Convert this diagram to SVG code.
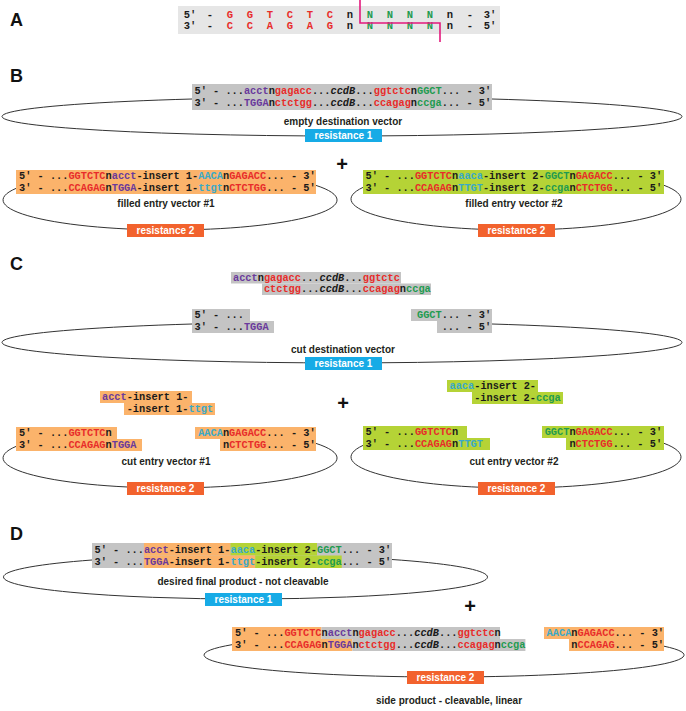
<svg xmlns="http://www.w3.org/2000/svg" width="686" height="711" viewBox="0 0 686 711">
<style>
.seq{font-family:"Liberation Mono","DejaVu Sans Mono",monospace;font-size:10.3px;font-weight:bold;fill:#1a1a1a}
.tok{font-family:"Liberation Mono","DejaVu Sans Mono",monospace;font-size:10.5px;font-weight:bold;fill:#1a1a1a;text-anchor:middle}
.r{fill:#e82c2a}.g{fill:#1f9b50}.p{fill:#6a3a9c}.t{fill:#39a9c9}.i{font-style:italic}
.lbl{font-family:"Liberation Sans",Arial,sans-serif;font-size:10px;font-weight:bold;fill:#231f20;text-anchor:middle}
.res{font-family:"Liberation Sans",Arial,sans-serif;font-size:10px;font-weight:bold;fill:#fff;text-anchor:middle}
.panel{font-family:"Liberation Sans",Arial,sans-serif;font-size:18px;font-weight:bold;fill:#111}
.plus{font-family:"Liberation Sans",Arial,sans-serif;font-size:20px;font-weight:bold;fill:#111;text-anchor:middle}
.gy{fill:#c4c4c4}.ga{fill:#e6e6e6}.or{fill:#fbb36b}.li{fill:#b5d336}
.r1{fill:#17abe6}.r2{fill:#f2622d}
.vec{fill:none;stroke:#333;stroke-width:1}
</style>

<g id="panel-labels">
<text class="panel" x="10" y="26">A</text>
<text class="panel" x="10" y="82">B</text>
<text class="panel" x="10" y="270">C</text>
<text class="panel" x="10" y="540">D</text>
</g>

<g id="plus-signs">
<text class="plus" x="342" y="171">+</text>
<text class="plus" x="343" y="410">+</text>
<text class="plus" x="470" y="613">+</text>
</g>

<g id="A-site">
<rect class="ga" x="178" y="6" width="322" height="28"/>
<text class="tok" y="17.5"><tspan x="190">5′</tspan><tspan x="210">-</tspan><tspan class="r" x="230">G</tspan><tspan class="r" x="250">G</tspan><tspan class="r" x="270">T</tspan><tspan class="r" x="290">C</tspan><tspan class="r" x="310">T</tspan><tspan class="r" x="330">C</tspan><tspan x="350">n</tspan><tspan class="g" x="370">N</tspan><tspan class="g" x="390">N</tspan><tspan class="g" x="410">N</tspan><tspan class="g" x="430">N</tspan><tspan x="450">n</tspan><tspan x="470">-</tspan><tspan x="490">3′</tspan></text>
<text class="tok" y="29"><tspan x="190">3′</tspan><tspan x="210">-</tspan><tspan class="r" x="230">C</tspan><tspan class="r" x="250">C</tspan><tspan class="r" x="270">A</tspan><tspan class="r" x="290">G</tspan><tspan class="r" x="310">A</tspan><tspan class="r" x="330">G</tspan><tspan x="350">n</tspan><tspan class="g" x="370">N</tspan><tspan class="g" x="390">N</tspan><tspan class="g" x="410">N</tspan><tspan class="g" x="430">N</tspan><tspan x="450">n</tspan><tspan x="470">-</tspan><tspan x="490">5′</tspan></text>
</g>
<g id="connectors">
<path d="M360,0 V23 H440 V42" fill="none" stroke="#e3197d" stroke-width="1.6"/>
</g>

<g id="B-destination">
<path class="vec" d="M192,99 A340,19.5 0 1 0 492,99"/>
<rect class="gy" x="192" y="84" width="300" height="26"/>
<text class="seq" x="194.5" y="94">5′ - ...<tspan class="p">acct</tspan>n<tspan class="r">gagacc</tspan>...<tspan class="i">ccdB</tspan>...<tspan class="r">ggtctc</tspan>n<tspan class="g">GGCT</tspan>... - 3′</text>
<text class="seq" x="194.5" y="105.5">3′ - ...<tspan class="p">TGGA</tspan>n<tspan class="r">ctctgg</tspan>...<tspan class="i">ccdB</tspan>...<tspan class="r">ccagag</tspan>n<tspan class="g">ccga</tspan>... - 5′</text>
<text class="lbl" x="343" y="124.5">empty destination vector</text>
<rect class="r1" x="305" y="129" width="77" height="13"/>
<text class="res" x="343.5" y="139">resistance 1</text>
</g>

<g id="B-entry1">
<path class="vec" d="M16,188.4 A167,30 0 1 0 316,185.4"/>
<rect class="or" x="16" y="170" width="300" height="24"/>
<text class="seq" x="19" y="179">5′ - ...<tspan class="r">GGTCTC</tspan>n<tspan class="p">acct</tspan>-insert 1-<tspan class="t">AACA</tspan>n<tspan class="r">GAGACC</tspan>... - 3′</text>
<text class="seq" x="19" y="190.5">3′ - ...<tspan class="r">CCAGAG</tspan>n<tspan class="p">TGGA</tspan>-insert 1-<tspan class="t">ttgt</tspan>n<tspan class="r">CTCTGG</tspan>... - 5′</text>
<text class="lbl" x="166" y="207">filled entry vector #1</text>
<rect class="r2" x="127" y="224" width="77" height="13"/>
<text class="res" x="165.5" y="234">resistance 2</text>
</g>

<g id="B-entry2">
<path class="vec" d="M363,187.4 A165,31 0 1 0 664,185.3"/>
<rect class="li" x="363" y="170" width="301" height="24"/>
<text class="seq" x="365.5" y="179">5′ - ...<tspan class="r">GGTCTC</tspan>n<tspan class="t">aaca</tspan>-insert 2-<tspan class="g">GGCT</tspan>n<tspan class="r">GAGACC</tspan>... - 3′</text>
<text class="seq" x="365.5" y="190.5">3′ - ...<tspan class="r">CCAGAG</tspan>n<tspan class="t">TTGT</tspan>-insert 2-<tspan class="g">ccga</tspan>n<tspan class="r">CTCTGG</tspan>... - 5′</text>
<text class="lbl" x="514" y="207">filled entry vector #2</text>
<rect class="r2" x="478" y="224" width="77" height="13"/>
<text class="res" x="516.5" y="234">resistance 2</text>
</g>

<g id="C-ccdB-fragment">
<rect class="gy" x="231" y="272" width="170" height="11.5"/>
<rect class="gy" x="262" y="283.5" width="169" height="11.5"/>
<text class="seq" x="233" y="280.5"><tspan class="p">acct</tspan>n<tspan class="r">gagacc</tspan>...<tspan class="i">ccdB</tspan>...<tspan class="r">ggtctc</tspan></text>
<text class="seq" x="263.9" y="292"><tspan class="r">ctctgg</tspan>...<tspan class="i">ccdB</tspan>...<tspan class="r">ccagag</tspan>n<tspan class="g">ccga</tspan></text>
</g>

<g id="C-destination">
<path class="vec" d="M192,324 A340,20.5 0 1 0 492,324"/>
<rect class="gy" x="192" y="309" width="58" height="12"/>
<rect class="gy" x="192" y="321" width="82" height="12"/>
<rect class="gy" x="411" y="309" width="81" height="12"/>
<rect class="gy" x="437" y="321" width="55" height="12"/>
<text class="seq" x="194.5" y="318">5′ - ...</text>
<text class="seq" x="194.5" y="329.5">3′ - ...<tspan class="p">TGGA</tspan></text>
<text class="seq" x="417" y="318"><tspan class="g">GGCT</tspan>... - 3′</text>
<text class="seq" x="441.7" y="329.5">... - 5′</text>
<text class="lbl" x="343" y="353">cut destination vector</text>
<rect class="r1" x="305" y="357" width="77" height="13"/>
<text class="res" x="343.5" y="367">resistance 1</text>
</g>

<g id="C-insert1">
<rect class="or" x="100" y="391" width="92" height="12"/>
<rect class="or" x="124" y="403" width="91" height="12"/>
<text class="seq" x="102" y="400"><tspan class="p">acct</tspan>-insert 1-</text>
<text class="seq" x="126.7" y="412">-insert 1-<tspan class="t">ttgt</tspan></text>
</g>

<g id="C-entry1">
<path class="vec" d="M16,446.4 A167,30 0 1 0 316,443.4"/>
<rect class="or" x="16" y="427" width="101" height="12"/>
<rect class="or" x="16" y="439" width="126" height="12"/>
<rect class="or" x="195" y="427" width="121" height="12"/>
<rect class="or" x="220" y="439" width="96" height="12"/>
<text class="seq" x="19" y="436">5′ - ...<tspan class="r">GGTCTC</tspan>n</text>
<text class="seq" x="19" y="447.5">3′ - ...<tspan class="r">CCAGAG</tspan>n<tspan class="p">TGGA</tspan></text>
<text class="seq" x="198.2" y="436"><tspan class="t">AACA</tspan>n<tspan class="r">GAGACC</tspan>... - 3′</text>
<text class="seq" x="223" y="447.5">n<tspan class="r">CTCTGG</tspan>... - 5′</text>
<text class="lbl" x="166" y="465">cut entry vector #1</text>
<rect class="r2" x="127" y="482" width="77" height="13"/>
<text class="res" x="165.5" y="492">resistance 2</text>
</g>

<g id="C-insert2">
<rect class="li" x="447" y="380" width="91" height="12"/>
<rect class="li" x="472" y="392" width="91" height="12"/>
<text class="seq" x="449.5" y="389"><tspan class="t">aaca</tspan>-insert 2-</text>
<text class="seq" x="474.2" y="401">-insert 2-<tspan class="g">ccga</tspan></text>
</g>

<g id="C-entry2">
<path class="vec" d="M363,445.4 A165,31 0 1 0 664,443.3"/>
<rect class="li" x="363" y="426" width="104" height="12"/>
<rect class="li" x="363" y="438" width="127" height="12"/>
<rect class="li" x="542" y="426" width="122" height="12"/>
<rect class="li" x="566" y="438" width="98" height="12"/>
<text class="seq" x="365.5" y="435">5′ - ...<tspan class="r">GGTCTC</tspan>n</text>
<text class="seq" x="365.5" y="446.5">3′ - ...<tspan class="r">CCAGAG</tspan>n<tspan class="t">TTGT</tspan></text>
<text class="seq" x="544.7" y="435"><tspan class="g">GGCT</tspan>n<tspan class="r">GAGACC</tspan>... - 3′</text>
<text class="seq" x="569.4" y="446.5">n<tspan class="r">CTCTGG</tspan>... - 5′</text>
<text class="lbl" x="514" y="465">cut entry vector #2</text>
<rect class="r2" x="478" y="482" width="77" height="13"/>
<text class="res" x="516.5" y="492">resistance 2</text>
</g>

<g id="D-final-product">
<path class="vec" d="M92,560 A242,22 0 1 0 392,559.5"/>
<rect class="gy" x="92" y="543" width="300" height="25"/>
<rect class="or" x="143.9" y="543" width="86.6" height="12.5"/>
<rect class="li" x="230.5" y="543" width="86.5" height="12.5"/>
<rect class="or" x="143.9" y="555.5" width="111.3" height="12.5"/>
<rect class="li" x="255.2" y="555.5" width="86.5" height="12.5"/>
<text class="seq" x="94.5" y="552.5">5′ - ...<tspan class="p">acct</tspan>-insert 1-<tspan class="t">aaca</tspan>-insert 2-<tspan class="g">GGCT</tspan>... - 3′</text>
<text class="seq" x="94.5" y="564.5">3′ - ...<tspan class="p">TGGA</tspan>-insert 1-<tspan class="t">ttgt</tspan>-insert 2-<tspan class="g">ccga</tspan>... - 5′</text>
<text class="lbl" x="243" y="585">desired final product - not cleavable</text>
<rect class="r1" x="205" y="593" width="77" height="13"/>
<text class="res" x="243.5" y="603">resistance 1</text>
</g>

<g id="D-side-product">
<path class="vec" d="M232,644.7 A240,22 0 1 0 664,646.2"/>
<rect class="or" x="232" y="627" width="89.5" height="12"/>
<rect class="gy" x="321.5" y="627" width="178.5" height="12"/>
<rect class="or" x="232" y="639" width="120.4" height="12"/>
<rect class="gy" x="352.4" y="639" width="173" height="12"/>
<rect class="or" x="544" y="627" width="120" height="12"/>
<rect class="or" x="569" y="639" width="95" height="12"/>
<text class="seq" x="235" y="636">5′ - ...<tspan class="r">GGTCTC</tspan>n<tspan class="p">acct</tspan>n<tspan class="r">gagacc</tspan>...<tspan class="i">ccdB</tspan>...<tspan class="r">ggtctc</tspan>n</text>
<text class="seq" x="235" y="648">3′ - ...<tspan class="r">CCAGAG</tspan>n<tspan class="p">TGGA</tspan>n<tspan class="r">ctctgg</tspan>...<tspan class="i">ccdB</tspan>...<tspan class="r">ccagag</tspan>n<tspan class="g">ccga</tspan></text>
<text class="seq" x="546.6" y="636"><tspan class="t">AACA</tspan>n<tspan class="r">GAGACC</tspan>... - 3′</text>
<text class="seq" x="571.3" y="648">n<tspan class="r">CCAGAG</tspan>... - 5′</text>
<rect class="r2" x="407" y="671" width="77" height="13"/>
<text class="res" x="445.5" y="681">resistance 2</text>
<text class="lbl" x="449" y="704">side product - cleavable, linear</text>
</g>
</svg>
